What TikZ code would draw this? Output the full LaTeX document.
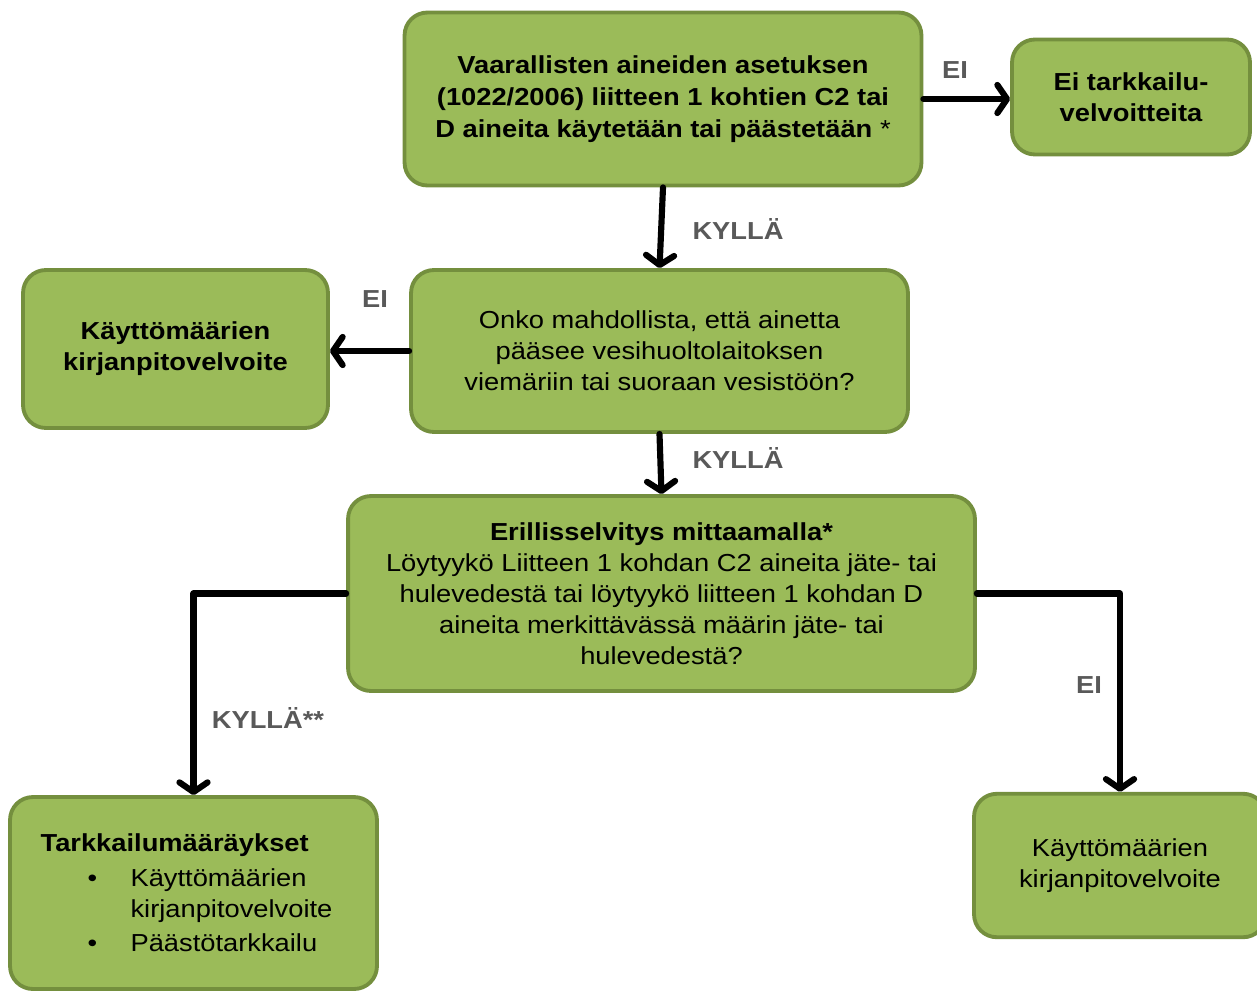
\documentclass[tikz,border=0pt]{standalone}
\usepackage{fontspec}
\setmainfont{Liberation Sans}[FakeStretch=1.11]
\usepackage{xcolor}
\usepackage{tikz}
\usetikzlibrary{arrows.meta,positioning}
\definecolor{flowgreen}{HTML}{9BBB59}
\definecolor{flowedge}{HTML}{748F3E}
\definecolor{flowgray}{HTML}{595959}
\tikzset{
  flowstage/.style={
    rectangle,
    rounded corners=13pt,
    line width=2.2pt,
    draw=flowedge,
    fill=flowgreen,
    align=center,
    inner sep=4pt,
    font=\fontsize{14}{17.6}\selectfont
  },
  flowbold/.style={flowstage,font=\fontsize{14}{17.6}\selectfont\bfseries},
  flowarrow/.style={-{Straight Barb[length=5.5pt,width=16pt,round]},
                    line width=3.5pt,line cap=round,line join=round,black},
  flowlabel/.style={font=\fontsize{14}{17}\selectfont\bfseries,text=flowgray,inner sep=0pt}
}

\begin{document}
\begin{tikzpicture}[
  x=0.02cm,y=-0.02cm
]
  \useasboundingbox (0,0) rectangle (1257,991);

  \node[flowbold,minimum width=10.34cm,minimum height=3.46cm,
        font=\fontsize{14}{18.3}\selectfont\bfseries] (asetus) at (663,99)
    {Vaarallisten aineiden asetuksen\\(1022/2006) liitteen 1 kohtien C2 tai\\D aineita käytetään tai päästetään {\mdseries *}};
  \node[flowbold,minimum width=4.76cm,minimum height=2.30cm] (eivelvoite) at (1131,97)
    {Ei tarkkailu-\\velvoitteita};
  \node[flowstage,minimum width=9.94cm,minimum height=3.24cm] (viemari) at (659.5,351)
    {Onko mahdollista, että ainetta\\pääsee vesihuoltolaitoksen\\viemäriin tai suoraan vesistöön?};
  \node[flowbold,minimum width=6.10cm,minimum height=3.16cm] (kirjanpitoA) at (175.5,349)
    {Käyttömäärien\\kirjanpitovelvoite};
  \node[flowstage,minimum width=12.54cm,minimum height=3.90cm] (selvitys) at (661.5,593.5)
    {\textbf{Erillisselvitys mittaamalla*}\\Löytyykö Liitteen 1 kohdan C2 aineita jäte- tai\\hulevedestä tai löytyykö liitteen 1 kohdan D\\aineita merkittävässä määrin jäte- tai\\hulevedestä?};
  \node[flowstage,align=left,minimum width=7.34cm,minimum height=3.84cm] (maaraykset) at (193.5,893)
    {\textbf{Tarkkailumääräykset}\\[2pt]
     \hspace*{0.94cm}\makebox[0.86cm][l]{\textbullet}Käyttömäärien\\
     \hspace*{1.80cm}kirjanpitovelvoite\rule{0.28cm}{0pt}\\[2pt]
     \hspace*{0.94cm}\makebox[0.86cm][l]{\textbullet}Päästötarkkailu};
  \node[flowstage,minimum width=5.84cm,minimum height=2.87cm] (kirjanpitoB) at (1120,865.5)
    {Käyttömäärien\\kirjanpitovelvoite};

  % connectors
  \draw[flowarrow] (asetus.east) -- (eivelvoite.west |- asetus.east);
  \draw[flowarrow] (asetus.south) -- (viemari.north);
  \draw[flowarrow] (viemari.west) -- (kirjanpitoA.east |- viemari.west);
  \draw[flowarrow] (viemari.south) -- (selvitys.north);
  \draw[flowarrow] (selvitys.west) -| (maaraykset.north);
  \draw[flowarrow] (selvitys.east) -| (kirjanpitoB.north);

  % answers
  \node[flowlabel] (eiA) at (955,70) {EI};
  \node[flowlabel] (kyllaA) at (738,229) {KYLLÄ};
  \node[flowlabel] (eiB) at (375,299) {EI};
  \node[flowlabel] (kyllaB) at (738,458) {KYLLÄ};
  \node[flowlabel] (kyllaC) at (268,718) {KYLLÄ**};
  \node[flowlabel] (eiC) at (1089,685) {EI};
\end{tikzpicture}
\end{document}
